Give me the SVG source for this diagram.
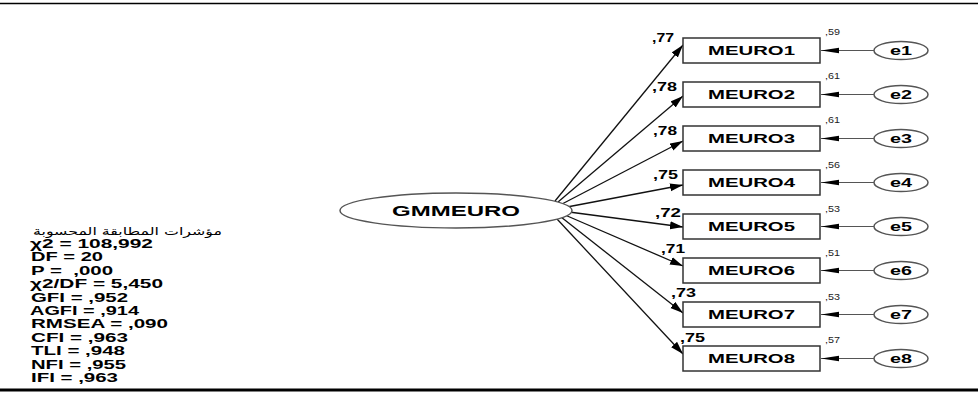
<svg xmlns="http://www.w3.org/2000/svg" width="978" height="396" viewBox="0 0 978 396">
<defs>
<style>
.t{font-family:"Liberation Sans",Arial,sans-serif;font-weight:bold;fill:#000}
.r2{font-family:"Liberation Sans",Arial,sans-serif;font-size:9px;fill:#222}
.box{fill:#fff;stroke:#333;stroke-width:1.5}
.ell{fill:#fff;stroke:#555;stroke-width:1.5}
.path{stroke:#111;stroke-width:1.3;fill:none;marker-end:url(#ah)}
.err{stroke:#555;stroke-width:1.2;fill:none;marker-end:url(#ahe)}
</style>
<marker id="ah" markerUnits="userSpaceOnUse" markerWidth="14" markerHeight="9" refX="13" refY="4.5" orient="auto"><path d="M0,0.5 L13,4.5 L0,8.5 z" fill="#000"/></marker>
<marker id="ahe" markerUnits="userSpaceOnUse" markerWidth="19" markerHeight="7" refX="18" refY="3.5" orient="auto"><path d="M0,0.8 L18,3.5 L0,6.2 z" fill="#000"/></marker>
</defs>
<rect width="978" height="396" fill="#fff"/>
<line x1="0" y1="3.5" x2="978" y2="3.5" stroke="#000" stroke-width="1.5"/>
<line x1="0" y1="390" x2="978" y2="390" stroke="#000" stroke-width="3"/>

<g id="connectors">
<line class="path" x1="555" y1="201" x2="683" y2="45"/>
<line class="path" x1="558" y1="202" x2="683" y2="96"/>
<line class="path" x1="562" y1="204" x2="683" y2="141"/>
<line class="path" x1="567" y1="207" x2="683" y2="185"/>
<line class="path" x1="569" y1="212" x2="683" y2="227"/>
<line class="path" x1="565" y1="215" x2="683" y2="266"/>
<line class="path" x1="561" y1="217" x2="683" y2="313"/>
<line class="path" x1="557" y1="219" x2="683" y2="354"/>
<line class="err" x1="874" y1="50.5" x2="821" y2="50.5"/>
<line class="err" x1="874" y1="94.5" x2="821" y2="94.5"/>
<line class="err" x1="874" y1="138.5" x2="821" y2="138.5"/>
<line class="err" x1="874" y1="182.5" x2="821" y2="182.5"/>
<line class="err" x1="874" y1="226.5" x2="821" y2="226.5"/>
<line class="err" x1="874" y1="270.5" x2="821" y2="270.5"/>
<line class="err" x1="874" y1="314.5" x2="821" y2="314.5"/>
<line class="err" x1="874" y1="358.5" x2="821" y2="358.5"/>
<text class="t" font-size="12" x="652" y="42" textLength="22" lengthAdjust="spacingAndGlyphs">,77</text>
<text class="t" font-size="12" x="652" y="91" textLength="25" lengthAdjust="spacingAndGlyphs">,78</text>
<text class="t" font-size="12" x="653" y="135" textLength="24" lengthAdjust="spacingAndGlyphs">,78</text>
<text class="t" font-size="12" x="653" y="179" textLength="25" lengthAdjust="spacingAndGlyphs">,75</text>
<text class="t" font-size="12" x="655" y="217" textLength="26" lengthAdjust="spacingAndGlyphs">,72</text>
<text class="t" font-size="12" x="661" y="253" textLength="24" lengthAdjust="spacingAndGlyphs">,71</text>
<text class="t" font-size="12" x="671" y="297" textLength="25" lengthAdjust="spacingAndGlyphs">,73</text>
<text class="t" font-size="12" x="680" y="342" textLength="25" lengthAdjust="spacingAndGlyphs">,75</text>
</g>

<g id="GMMEURO">
<ellipse class="ell" cx="456" cy="210.5" rx="116" ry="17.5"/>
<text class="t" font-size="14.5" x="392" y="215.5" textLength="128" lengthAdjust="spacingAndGlyphs">GMMEURO</text>
</g>

<g id="MEURO1"><rect class="box" x="683" y="38" width="137" height="25"/><text class="t" font-size="12" x="708" y="55" textLength="87" lengthAdjust="spacingAndGlyphs">MEURO1</text><text class="r2" x="825" y="35" textLength="15" lengthAdjust="spacingAndGlyphs">,59</text></g>
<g id="MEURO2"><rect class="box" x="683" y="82" width="137" height="25"/><text class="t" font-size="12" x="708" y="99" textLength="87" lengthAdjust="spacingAndGlyphs">MEURO2</text><text class="r2" x="825" y="79" textLength="15" lengthAdjust="spacingAndGlyphs">,61</text></g>
<g id="MEURO3"><rect class="box" x="683" y="126" width="137" height="25"/><text class="t" font-size="12" x="708" y="143" textLength="87" lengthAdjust="spacingAndGlyphs">MEURO3</text><text class="r2" x="825" y="123" textLength="15" lengthAdjust="spacingAndGlyphs">,61</text></g>
<g id="MEURO4"><rect class="box" x="683" y="170" width="137" height="25"/><text class="t" font-size="12" x="708" y="187" textLength="87" lengthAdjust="spacingAndGlyphs">MEURO4</text><text class="r2" x="825" y="168" textLength="15" lengthAdjust="spacingAndGlyphs">,56</text></g>
<g id="MEURO5"><rect class="box" x="683" y="214" width="137" height="25"/><text class="t" font-size="12" x="708" y="231" textLength="87" lengthAdjust="spacingAndGlyphs">MEURO5</text><text class="r2" x="825" y="212" textLength="15" lengthAdjust="spacingAndGlyphs">,53</text></g>
<g id="MEURO6"><rect class="box" x="683" y="258" width="137" height="25"/><text class="t" font-size="12" x="708" y="275" textLength="87" lengthAdjust="spacingAndGlyphs">MEURO6</text><text class="r2" x="825" y="256" textLength="15" lengthAdjust="spacingAndGlyphs">,51</text></g>
<g id="MEURO7"><rect class="box" x="683" y="302" width="137" height="25"/><text class="t" font-size="12" x="708" y="319" textLength="87" lengthAdjust="spacingAndGlyphs">MEURO7</text><text class="r2" x="825" y="300" textLength="15" lengthAdjust="spacingAndGlyphs">,53</text></g>
<g id="MEURO8"><rect class="box" x="683" y="346" width="137" height="25"/><text class="t" font-size="12" x="708" y="363" textLength="87" lengthAdjust="spacingAndGlyphs">MEURO8</text><text class="r2" x="825" y="343" textLength="15" lengthAdjust="spacingAndGlyphs">,57</text></g>

<g id="e1"><ellipse class="ell" cx="901" cy="50.5" rx="27" ry="9"/><text class="t" font-size="12" x="890" y="55" textLength="22" lengthAdjust="spacingAndGlyphs">e1</text></g>
<g id="e2"><ellipse class="ell" cx="901" cy="94.5" rx="27" ry="9"/><text class="t" font-size="12" x="890" y="99" textLength="22" lengthAdjust="spacingAndGlyphs">e2</text></g>
<g id="e3"><ellipse class="ell" cx="901" cy="138.5" rx="27" ry="9"/><text class="t" font-size="12" x="890" y="143" textLength="22" lengthAdjust="spacingAndGlyphs">e3</text></g>
<g id="e4"><ellipse class="ell" cx="901" cy="182.5" rx="27" ry="9"/><text class="t" font-size="12" x="890" y="187" textLength="22" lengthAdjust="spacingAndGlyphs">e4</text></g>
<g id="e5"><ellipse class="ell" cx="901" cy="226.5" rx="27" ry="9"/><text class="t" font-size="12" x="890" y="231" textLength="22" lengthAdjust="spacingAndGlyphs">e5</text></g>
<g id="e6"><ellipse class="ell" cx="901" cy="270.5" rx="27" ry="9"/><text class="t" font-size="12" x="890" y="275" textLength="22" lengthAdjust="spacingAndGlyphs">e6</text></g>
<g id="e7"><ellipse class="ell" cx="901" cy="314.5" rx="27" ry="9"/><text class="t" font-size="12" x="890" y="319" textLength="22" lengthAdjust="spacingAndGlyphs">e7</text></g>
<g id="e8"><ellipse class="ell" cx="901" cy="358.5" rx="27" ry="9"/><text class="t" font-size="12" x="890" y="363" textLength="22" lengthAdjust="spacingAndGlyphs">e8</text></g>

<g id="fit-indices">
<text x="33" y="235" font-family="'DejaVu Sans','Noto Sans',sans-serif" font-size="10.5" fill="#000" textLength="189" lengthAdjust="spacingAndGlyphs">مؤشرات المطابقة المحسوبة</text>
<text class="t" font-size="13" x="30" y="248" textLength="123" lengthAdjust="spacingAndGlyphs">χ2 = 108,992</text>
<text class="t" font-size="13" x="31" y="261.4" textLength="72" lengthAdjust="spacingAndGlyphs">DF = 20</text>
<text class="t" font-size="13" x="31" y="274.8" textLength="82" lengthAdjust="spacingAndGlyphs" xml:space="preserve">P =  ,000</text>
<text class="t" font-size="13" x="30" y="288.2" textLength="133" lengthAdjust="spacingAndGlyphs">χ2/DF = 5,450</text>
<text class="t" font-size="13" x="31" y="301.6" textLength="97" lengthAdjust="spacingAndGlyphs">GFI = ,952</text>
<text class="t" font-size="13" x="30" y="315" textLength="109" lengthAdjust="spacingAndGlyphs">AGFI = ,914</text>
<text class="t" font-size="13" x="31" y="328.4" textLength="137" lengthAdjust="spacingAndGlyphs">RMSEA = ,090</text>
<text class="t" font-size="13" x="31" y="341.8" textLength="97" lengthAdjust="spacingAndGlyphs">CFI = ,963</text>
<text class="t" font-size="13" x="31" y="355.2" textLength="94" lengthAdjust="spacingAndGlyphs">TLI = ,948</text>
<text class="t" font-size="13" x="31" y="368.6" textLength="95" lengthAdjust="spacingAndGlyphs">NFI = ,955</text>
<text class="t" font-size="13" x="31" y="382" textLength="87" lengthAdjust="spacingAndGlyphs">IFI = ,963</text>
</g>
</svg>
